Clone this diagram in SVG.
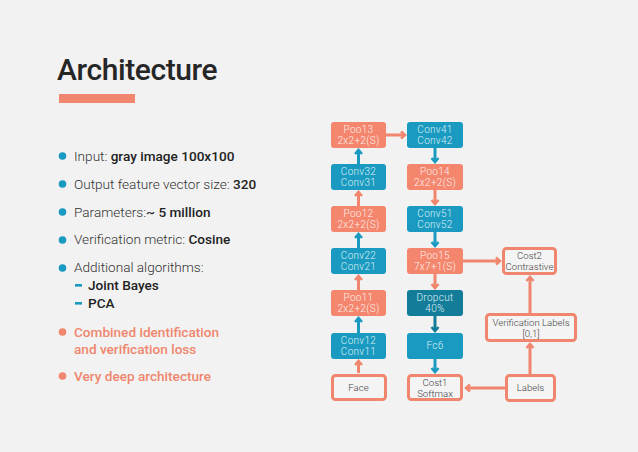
<svg xmlns="http://www.w3.org/2000/svg" width="638" height="452" viewBox="0 0 638 452">
<defs>
<style>
.bg{fill:#f2f2f2}
.t{font-family:Roboto,"Liberation Sans",sans-serif;font-weight:300;font-size:13.6px;fill:#333}
.b{font-weight:500;fill:#222}
.s{fill:#f0866d}
.sb{font-weight:500;fill:#f0866d}
.sal{fill:#f4866e}
.teal{fill:#1a9ac0}
.dteal{fill:#137c99}
.out{fill:#f4f4f4;stroke:#f0866d;stroke-width:3}
.bt{font-family:Roboto,"Liberation Sans",sans-serif;font-weight:300;font-size:10px;letter-spacing:0.3px;text-anchor:middle;fill:#fdf0ec}
.bt2{font-family:Roboto,"Liberation Sans",sans-serif;font-weight:300;font-size:10px;letter-spacing:0.3px;text-anchor:middle;fill:#dff0f6}
.ot{font-family:Roboto,"Liberation Sans",sans-serif;font-weight:300;font-size:9.6px;text-anchor:middle;fill:#444}
.cs{stroke:#f0866d;stroke-width:3;fill:none}
.ct{stroke:#1a9ac0;stroke-width:3;fill:none}
.cd{stroke:#137c99;stroke-width:3;fill:none}
</style>
<marker id="ms" viewBox="0 0 10 10" refX="7" refY="5" markerWidth="10" markerHeight="10" markerUnits="userSpaceOnUse" orient="auto"><path d="M3,1.5 L7,5 L3,8.5" fill="none" stroke="#f0866d" stroke-width="2.5"/></marker>
<marker id="mt" viewBox="0 0 10 10" refX="7" refY="5" markerWidth="10" markerHeight="10" markerUnits="userSpaceOnUse" orient="auto"><path d="M3,1.5 L7,5 L3,8.5" fill="none" stroke="#1a9ac0" stroke-width="2.5"/></marker>
<marker id="md" viewBox="0 0 10 10" refX="7" refY="5" markerWidth="10" markerHeight="10" markerUnits="userSpaceOnUse" orient="auto"><path d="M3,1.5 L7,5 L3,8.5" fill="none" stroke="#137c99" stroke-width="2.5"/></marker>
</defs>
<rect class="bg" x="0" y="0" width="638" height="452"/>

<g id="title">
<text x="57" y="80" style="font-family:Roboto,'Liberation Sans',sans-serif;font-weight:500;font-size:30px;letter-spacing:-0.4px;fill:#262626">Architecture</text>
<rect x="59" y="94" width="76" height="9" fill="#f0866d"/>
</g>

<g id="bullets">
<circle cx="62.5" cy="156" r="3.8" class="teal"/>
<text class="t" x="74" y="161">Input: <tspan class="b">gray image 100x100</tspan></text>
<circle cx="62.5" cy="184" r="3.8" class="teal"/>
<text class="t" x="74" y="189">Output feature vector size: <tspan class="b">320</tspan></text>
<circle cx="62.5" cy="212" r="3.8" class="teal"/>
<text class="t" x="74" y="217">Parameters:<tspan class="b">~ 5 million</tspan></text>
<circle cx="62.5" cy="240" r="3.8" class="teal"/>
<text class="t" x="74" y="244">Verification metric: <tspan class="b">Cosine</tspan></text>
<circle cx="62.5" cy="268" r="3.8" class="teal"/>
<text class="t" x="74" y="272">Additional algorithms:</text>
<rect x="75" y="284" width="7" height="2.6" class="teal"/>
<text class="t b" x="88" y="290">Joint Bayes</text>
<rect x="75" y="302" width="7" height="2.6" class="teal"/>
<text class="t b" x="88" y="308">PCA</text>
<circle cx="62.5" cy="332" r="3.8" class="s"/>
<text class="t sb" x="74" y="337">Combined identification</text>
<text class="t sb" x="74" y="354">and verification loss</text>
<circle cx="62.5" cy="376" r="3.8" class="s"/>
<text class="t sb" x="74" y="381">Very deep architecture</text>
</g>

<g id="connectors">
<line class="cs" x1="358.5" y1="373" x2="358.5" y2="361" marker-end="url(#ms)"/>
<line class="ct" x1="358.5" y1="333" x2="358.5" y2="318" marker-end="url(#mt)"/>
<line class="cs" x1="358.5" y1="290" x2="358.5" y2="276" marker-end="url(#ms)"/>
<line class="ct" x1="358.5" y1="248" x2="358.5" y2="234" marker-end="url(#mt)"/>
<line class="cs" x1="358.5" y1="206" x2="358.5" y2="192" marker-end="url(#ms)"/>
<line class="ct" x1="358.5" y1="164" x2="358.5" y2="150" marker-end="url(#mt)"/>
<line class="cs" x1="386" y1="135" x2="405" y2="135" marker-end="url(#ms)"/>
<line class="ct" x1="435" y1="148" x2="435" y2="162" marker-end="url(#mt)"/>
<line class="cs" x1="435" y1="190" x2="435" y2="204" marker-end="url(#ms)"/>
<line class="ct" x1="435" y1="232" x2="435" y2="246" marker-end="url(#mt)"/>
<line class="cs" x1="435" y1="274" x2="435" y2="288" marker-end="url(#ms)"/>
<line class="cd" x1="435" y1="316" x2="435" y2="331" marker-end="url(#md)"/>
<line class="ct" x1="435" y1="359" x2="435" y2="372" marker-end="url(#mt)"/>
<line class="cs" x1="463" y1="261" x2="500" y2="261" marker-end="url(#ms)"/>
<line class="cs" x1="505" y1="388" x2="466" y2="388" marker-end="url(#ms)"/>
<line class="cs" x1="530" y1="374" x2="530" y2="344" marker-end="url(#ms)"/>
<line class="cs" x1="530" y1="313" x2="530" y2="277" marker-end="url(#ms)"/>
</g>

<g id="pool3"><rect class="sal" x="331" y="122" width="55" height="26" rx="3"/><text class="bt" x="358.5" y="133">Poo13</text><text class="bt" x="358.5" y="144">2x2+2(S)</text></g>
<g id="conv3"><rect class="teal" x="331" y="164" width="55" height="26" rx="3"/><text class="bt2" x="358.5" y="175">Conv32</text><text class="bt2" x="358.5" y="186">Conv31</text></g>
<g id="pool2"><rect class="sal" x="331" y="206" width="55" height="26" rx="3"/><text class="bt" x="358.5" y="217">Poo12</text><text class="bt" x="358.5" y="228">2x2+2(S)</text></g>
<g id="conv2"><rect class="teal" x="331" y="248" width="55" height="26" rx="3"/><text class="bt2" x="358.5" y="259">Conv22</text><text class="bt2" x="358.5" y="270">Conv21</text></g>
<g id="pool1"><rect class="sal" x="331" y="290" width="55" height="26" rx="3"/><text class="bt" x="358.5" y="301">Poo11</text><text class="bt" x="358.5" y="312">2x2+2(S)</text></g>
<g id="conv1"><rect class="teal" x="331" y="333" width="55" height="26" rx="3"/><text class="bt2" x="358.5" y="344">Conv12</text><text class="bt2" x="358.5" y="355">Conv11</text></g>
<g id="face"><rect class="out" x="332.5" y="375.5" width="53" height="24" rx="3"/><text class="ot" x="358.5" y="391">Face</text></g>

<g id="conv4"><rect class="teal" x="407" y="122" width="56" height="26" rx="3"/><text class="bt2" x="435" y="133">Conv41</text><text class="bt2" x="435" y="144">Conv42</text></g>
<g id="pool4"><rect class="sal" x="407" y="164" width="56" height="26" rx="3"/><text class="bt" x="435" y="175">Poo14</text><text class="bt" x="435" y="186">2x2+2(S)</text></g>
<g id="conv5"><rect class="teal" x="407" y="206" width="56" height="26" rx="3"/><text class="bt2" x="435" y="217">Conv51</text><text class="bt2" x="435" y="228">Conv52</text></g>
<g id="pool5"><rect class="sal" x="407" y="248" width="56" height="26" rx="3"/><text class="bt" x="435" y="259">Poo15</text><text class="bt" x="435" y="270">7x7+1(S)</text></g>
<g id="dropout"><rect class="dteal" x="407" y="290" width="56" height="26" rx="3"/><text class="bt2" x="435" y="301">Dropcut</text><text class="bt2" x="435" y="312">40%</text></g>
<g id="fc6"><rect class="teal" x="407" y="333" width="56" height="26" rx="3"/><text class="bt2" x="435" y="349">Fc6</text></g>
<g id="cost1"><rect class="out" x="408.5" y="375.5" width="53" height="24" rx="3"/><text class="ot" x="435" y="386">Cost1</text><text class="ot" x="435" y="397">Softmax</text></g>

<g id="cost2"><rect class="out" x="503.5" y="248.5" width="52" height="25" rx="3"/><text class="ot" x="529.5" y="259">Cost2</text><text class="ot" x="529.5" y="270">Contrastive</text></g>
<g id="verif"><rect class="out" x="486.5" y="314.5" width="89" height="26" rx="3"/><text class="ot" x="531" y="325.5">Verification Labels</text><text class="ot" x="531" y="336.5">[0,1]</text></g>
<g id="labels"><rect class="out" x="506.5" y="375.5" width="48" height="25" rx="3"/><text class="ot" x="530.5" y="391">Labels</text></g>
</svg>
